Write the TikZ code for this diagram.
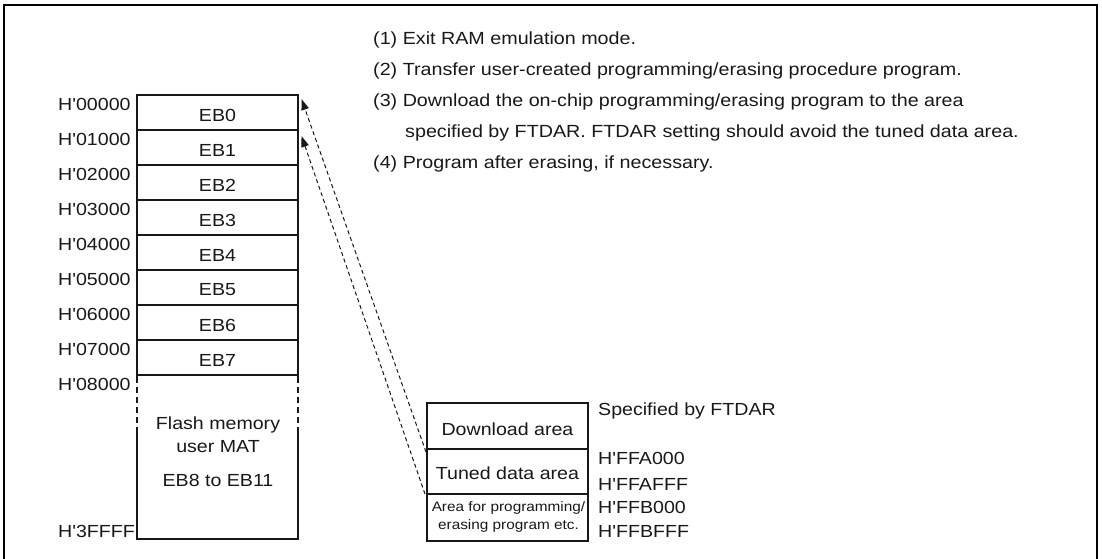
\documentclass[tikz,border=0pt]{standalone}
\usepackage{fontspec}
\setmainfont{Liberation Sans}[FakeStretch=1.12, Ligatures=TeXOff]
\usetikzlibrary{arrows.meta}
\definecolor{ink}{HTML}{1A1718}
\tikzset{
  frame/.style={line width=2.5pt, draw=black},
  membox/.style={line width=2pt, draw=ink},
  txt/.style={inner sep=0pt, text=ink, font=\fontsize{17.5}{20}\selectfont},
  smalltxt/.style={inner sep=0pt, text=ink, font=\fontsize{13.7}{18}\selectfont, align=center},
  note/.style={inner sep=0pt, anchor=base west, text=ink, font=\fontsize{17.6}{20}\selectfont},
  addr/.style={txt, anchor=west},
  dl/.style={line width=1pt, draw=ink, dash pattern=on 4pt off 3pt,
    -{Stealth[length=11pt,width=7.5pt,inset=0pt]}},
}
\begin{document}
\begin{tikzpicture}[x=1pt,y=-1pt]
\useasboundingbox (0,0) rectangle (1102,558);
% outer frame
\draw[frame] (4,562) -- (4,5) -- (1097,5) -- (1097,562);

% notes
\node[note] (n1) at (373,44) {(1) Exit RAM emulation mode.};
\node[note] (n2) at (373,75) {(2) Transfer user-created programming/erasing procedure program.};
\node[note] (n3) at (373,106) {(3) Download the on-chip programming/erasing program to the area};
\node[note] (n3b) at (405,137) {specified by FTDAR. FTDAR setting should avoid the tuned data area.};
\node[note] (n4) at (373,168) {(4) Program after erasing, if necessary.};

% memory map
\foreach \i in {0,...,7}{
  \draw[membox] (137,95+35*\i) rectangle (298,130+35*\i);
  \node[txt] (eb\i) at (217.5,115+35*\i) {EB\i};
}
\draw[membox] (137,375) -- (137,539) -- (298,539) -- (298,375);
\draw[line width=2.2pt, draw=white] (137,377) -- (137,427);
\draw[line width=2.2pt, draw=white] (298,377) -- (298,427);
\draw[line width=2pt, draw=ink, dash pattern=on 6pt off 4pt] (137,377) -- (137,427);
\draw[line width=2pt, draw=ink, dash pattern=on 6pt off 4pt] (298,377) -- (298,427);

\node[txt] (fm1) at (218,425) {Flash memory};
\node[txt] (fm2) at (218,447) {user MAT};
\node[txt] (fm3) at (218,480) {EB8 to EB11};

\node[addr] (a0) at (58,104) {H'00000};
\node[addr] (a1) at (58,139) {H'01000};
\node[addr] (a2) at (58,174) {H'02000};
\node[addr] (a3) at (58,209) {H'03000};
\node[addr] (a4) at (58,244) {H'04000};
\node[addr] (a5) at (58,279) {H'05000};
\node[addr] (a6) at (58,314) {H'06000};
\node[addr] (a7) at (58,349) {H'07000};
\node[addr] (a8) at (58,384) {H'08000};
\node[addr] (a9) at (58,531) {H'3FFFF};

% RAM area
\draw[membox] (427,403) rectangle (588,449);
\draw[membox] (427,449) rectangle (588,494);
\draw[membox] (427,494) rectangle (588,541);
\node[txt] (dla) at (507.5,429) {Download area};
\node[txt] (tda) at (507.5,473) {Tuned data area};
\node[smalltxt] (pga) at (508.5,517) {Area for programming/\\erasing program etc.};

\node[addr] (r0) at (598,411) {Specified by FTDAR};
\node[addr] (r1) at (598,458) {H'FFA000};
\node[addr] (r2) at (598,484) {H'FFAFFF};
\node[addr] (r3) at (598,507) {H'FFB000};
\node[addr] (r4) at (598,531) {H'FFBFFF};

% arrows
\coordinate (s0) at (426,452);
\coordinate (s1) at (425,494);
\coordinate (t0) at (301.5,99);
\coordinate (t1) at (301.5,136);
\draw[dl] (s0) -- (t0);
\draw[dl] (s1) -- (t1);
\end{tikzpicture}
\end{document}
